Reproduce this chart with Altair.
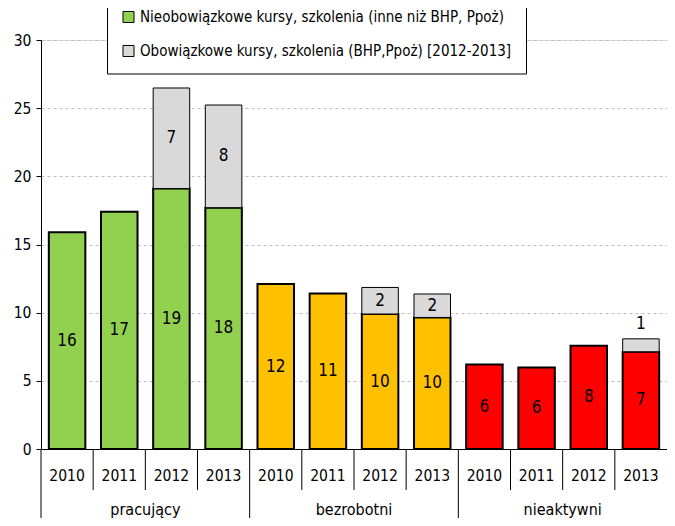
import altair as alt
import pandas as pd

groups = ["pracujący", "bezrobotni", "nieaktywni"]
years = ["2010", "2011", "2012", "2013"]
# Nieobowiązkowe (non-mandatory) values, per group, per year
nieob = [
    [15.9, 17.4, 19.1, 17.7],
    [12.1, 11.4, 9.9, 9.65],
    [6.2, 5.97, 7.57, 7.13],
]
# Obowiązkowe (mandatory) values
obow = [
    [0, 0, 7.38, 7.53],
    [0, 0, 1.95, 1.72],
    [0, 0, 0, 0.95],
]
L1 = "Nieobowiązkowe kursy, szkolenia (inne niż BHP, Ppoż)"
L2 = "Obowiązkowe kursy, szkolenia (BHP,Ppoż) [2012-2013]"
group_fill_key = [L1, "bezrobotni", "nieaktywni"]
fill_domain = [L1, L2, "bezrobotni", "nieaktywni"]
fill_range = ["#92D050", "#D9D9D9", "#FFC000", "#FF0000"]

FONT = "Liberation Sans Narrow, DejaVu Sans Condensed, sans-serif"
W, H = 626, 409

long_rows, wide_rows = [], []
for gi, g in enumerate(groups):
    for yi, y in enumerate(years):
        key = f"{g}|{y}"
        n, o = nieob[gi][yi], obow[gi][yi]
        long_rows.append(dict(key=key, group=g, year=y, kind="n", ord=0,
                              fillkey=group_fill_key[gi], value=n))
        if o > 0:
            long_rows.append(dict(key=key, group=g, year=y, kind="o", ord=1,
                                  fillkey=L2, value=o))
        wide_rows.append(dict(key=key, group=g, year=y, n=n, o=o,
                              n_mid=n / 2, o_mid=n + o / 2, top=n + o,
                              n_lab=str(int(round(n))),
                              o_lab=str(int(round(o))) if o > 0 else ""))
long_df = pd.DataFrame(long_rows)
wide_df = pd.DataFrame(wide_rows)
keys = list(wide_df["key"])

xscale = alt.Scale(domain=keys, paddingInner=0, paddingOuter=0)
yscale = alt.Scale(domain=[0, 30], nice=False)

x_axis = alt.Axis(title=None, labelExpr="split(datum.label, '|')[1]", ticks=False,
                  labelAngle=0, labelFont=FONT, labelFontSize=15.5, labelColor="black",
                  labelPadding=19, domainColor="black", domainWidth=1, grid=False)
y_axis = alt.Axis(title=None, values=[0, 5, 10, 15, 20, 25, 30], labelFont=FONT,
                  labelFontSize=15.5, labelColor="black", tickColor="black", tickSize=5,
                  domainColor="black", domainWidth=1, labelPadding=5,
                  grid=True, gridColor="#BFBFBF", gridDash=[3, 3], gridWidth=1)

bars = alt.Chart(long_df).mark_bar(width=alt.RelativeBandSize(0.7), stroke="black").encode(
    x=alt.X("key:N", scale=xscale, axis=x_axis, sort=keys),
    y=alt.Y("value:Q", stack="zero", scale=yscale, axis=y_axis),
    order=alt.Order("ord:Q"),
    color=alt.Color("fillkey:N",
                    scale=alt.Scale(domain=fill_domain, range=fill_range),
                    legend=alt.Legend(values=[L1, L2], title=None, orient="none",
                                      legendX=66, legendY=-44.5,
                                      strokeColor="black", fillColor="white",
                                      padding=14, rowPadding=18,
                                      symbolType="square", symbolSize=121,
                                      symbolStrokeColor="black", symbolStrokeWidth=1,
                                      symbolOpacity=1,
                                      labelFont=FONT, labelFontSize=15,
                                      labelColor="black", labelLimit=600, labelOffset=4)),
    strokeWidth=alt.StrokeWidth("kind:N", scale=alt.Scale(domain=["n", "o"], range=[2, 1]),
                                legend=None),
)

txt_n = alt.Chart(wide_df).mark_text(font=FONT, fontSize=17, color="black", baseline="middle").encode(
    x=alt.X("key:N", scale=xscale, sort=keys),
    y=alt.Y("n_mid:Q", scale=yscale),
    text="n_lab:N",
)
txt_o = alt.Chart(wide_df).transform_filter("datum.o >= 1.5").mark_text(
    font=FONT, fontSize=17, color="black", baseline="middle").encode(
    x=alt.X("key:N", scale=xscale, sort=keys),
    y=alt.Y("o_mid:Q", scale=yscale),
    text="o_lab:N",
)
txt_small = alt.Chart(wide_df).transform_filter("datum.o > 0 && datum.o < 1.5").mark_text(
    font=FONT, fontSize=17, color="black", baseline="bottom", dy=-6).encode(
    x=alt.X("key:N", scale=xscale, sort=keys),
    y=alt.Y("top:Q", scale=yscale),
    text="o_lab:N",
)

sep_year = alt.Chart(wide_df).transform_filter("datum.year != '2010'").mark_rule(
    color="black", strokeWidth=1).encode(
    x=alt.X("key:N", scale=xscale, sort=keys, bandPosition=0),
    y=alt.value(H), y2=alt.value(H + 41),
)
sep_group = alt.Chart(wide_df).transform_filter("datum.year == '2010'").mark_rule(
    color="black", strokeWidth=1).encode(
    x=alt.X("key:N", scale=xscale, sort=keys, bandPosition=0),
    y=alt.value(H), y2=alt.value(H + 69),
)
group_labels = alt.Chart(wide_df).transform_filter("datum.year == '2012'").mark_text(
    font=FONT, fontSize=16, color="black", baseline="alphabetic").encode(
    x=alt.X("key:N", scale=xscale, sort=keys, bandPosition=0),
    y=alt.value(H + 66),
    text="group:N",
)

chart = alt.layer(bars, txt_n, txt_o, txt_small, sep_year, sep_group, group_labels).properties(
    width=W, height=H,
    autosize=alt.AutoSizeParams(type="none"),
    padding={"left": 33, "top": 32, "right": 0, "bottom": 69},
).configure_view(strokeWidth=0).configure(background="white")

chart.save("out.html", embed_options={"renderer": "svg", "actions": False})
